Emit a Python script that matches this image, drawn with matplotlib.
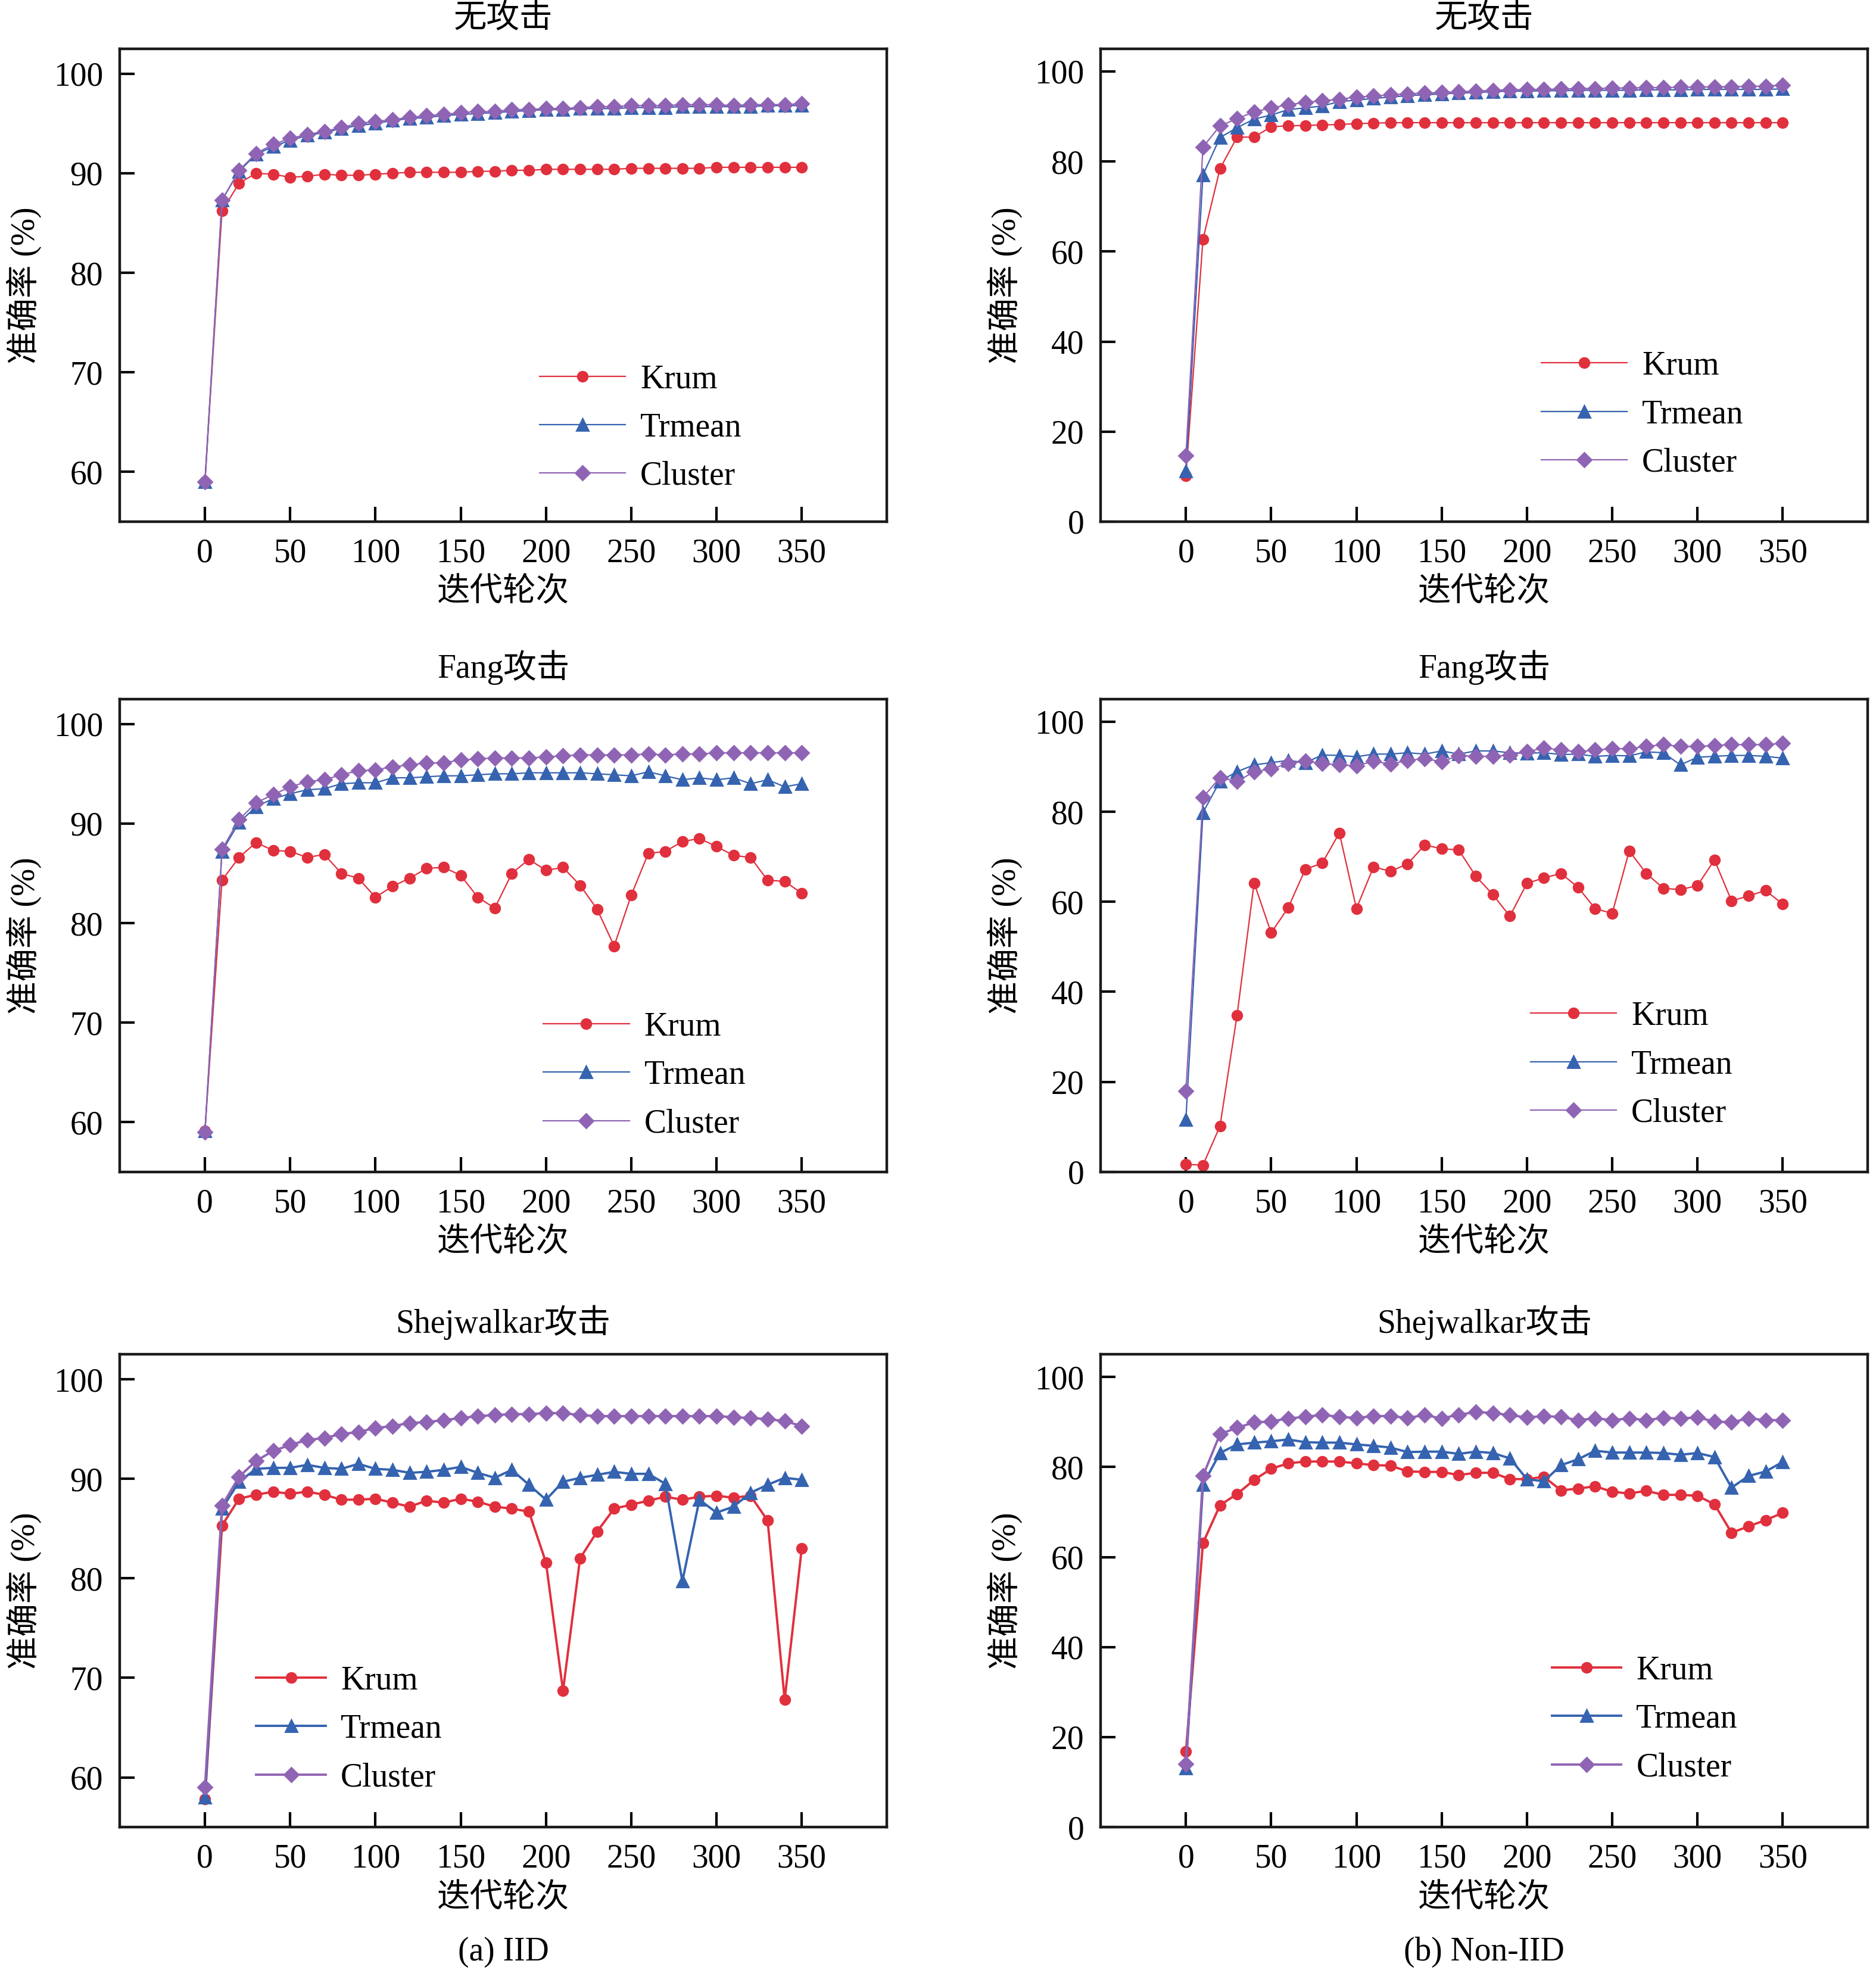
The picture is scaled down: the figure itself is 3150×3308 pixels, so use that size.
import matplotlib
matplotlib.use('Agg')
import matplotlib.pyplot as plt
import numpy as np

plt.rcParams['font.family'] = ['Liberation Serif', 'Noto Sans CJK SC']
plt.rcParams['axes.unicode_minus'] = False

# 迭代轮次
rounds = np.arange(0, 360, 10)
methods = ['Krum', 'Trmean', 'Cluster']

# IID 无攻击
iid_none_krum = [59.0, 86.2, 89.0, 90.0, 89.9, 89.6, 89.7, 89.9, 89.8, 89.8, 89.9, 90.0,
                 90.1, 90.1, 90.1, 90.1, 90.2, 90.2, 90.3, 90.3, 90.4, 90.4, 90.4, 90.4,
                 90.4, 90.5, 90.5, 90.5, 90.5, 90.5, 90.6, 90.6, 90.6, 90.6, 90.6, 90.6]
iid_none_trmean = [59.0, 87.3, 90.2, 91.9, 92.7, 93.3, 93.8, 94.1, 94.5, 94.8, 95.0, 95.3,
                   95.5, 95.6, 95.8, 95.9, 96.0, 96.1, 96.2, 96.3, 96.4, 96.4, 96.5, 96.5,
                   96.5, 96.6, 96.6, 96.6, 96.7, 96.7, 96.7, 96.7, 96.7, 96.8, 96.8, 96.8]
iid_none_cluster = [59.0, 87.3, 90.3, 92.0, 92.9, 93.5, 93.9, 94.2, 94.6, 95.0, 95.2, 95.4,
                    95.6, 95.8, 95.9, 96.1, 96.2, 96.2, 96.4, 96.4, 96.5, 96.5, 96.6, 96.7,
                    96.7, 96.8, 96.8, 96.8, 96.9, 96.9, 96.9, 96.8, 96.9, 96.9, 96.9, 97.0]

# Non-IID 无攻击
non_none_krum = [10.2, 62.7, 78.4, 85.4, 85.4, 87.7, 87.9, 88.0, 88.1, 88.2, 88.4, 88.5,
                 88.6, 88.6, 88.6, 88.6, 88.6, 88.6, 88.6, 88.6, 88.6, 88.6, 88.6, 88.6,
                 88.6, 88.6, 88.6, 88.6, 88.6, 88.6, 88.6, 88.6, 88.6, 88.6, 88.6, 88.6]
non_none_trmean = [11.3, 77.0, 85.3, 87.5, 89.4, 90.3, 91.5, 91.9, 92.3, 93.3, 93.6, 94.0,
                   94.3, 94.6, 94.8, 95.0, 95.2, 95.3, 95.5, 95.6, 95.6, 95.7, 95.7, 95.8,
                   95.8, 95.8, 95.8, 95.9, 95.9, 95.9, 96.0, 96.0, 96.0, 96.0, 96.0, 96.1]
non_none_cluster = [14.7, 83.2, 87.9, 89.5, 91.0, 91.9, 92.6, 93.1, 93.5, 93.8, 94.3, 94.5,
                    94.8, 95.0, 95.2, 95.3, 95.5, 95.6, 95.8, 95.9, 96.0, 96.0, 96.1, 96.2,
                    96.2, 96.3, 96.3, 96.4, 96.4, 96.5, 96.5, 96.6, 96.6, 96.7, 96.7, 97.0]

# IID Fang攻击
iid_fang_krum = [59.1, 84.3, 86.6, 88.1, 87.3, 87.2, 86.6, 86.9, 85.0, 84.5, 82.6, 83.7,
                 84.5, 85.5, 85.6, 84.8, 82.6, 81.5, 85.0, 86.4, 85.3, 85.6, 83.8, 81.4,
                 77.7, 82.8, 87.0, 87.2, 88.2, 88.5, 87.7, 86.8, 86.6, 84.3, 84.2, 83.0]
iid_fang_trmean = [59.1, 87.2, 90.1, 91.7, 92.5, 93.0, 93.4, 93.5, 94.0, 94.1, 94.1, 94.6,
                   94.6, 94.7, 94.8, 94.8, 94.9, 95.0, 95.0, 95.1, 95.1, 95.1, 95.1, 95.0,
                   94.9, 94.8, 95.2, 94.8, 94.4, 94.6, 94.4, 94.6, 94.0, 94.4, 93.7, 94.0]
iid_fang_cluster = [59.0, 87.4, 90.4, 92.1, 92.9, 93.7, 94.2, 94.4, 94.9, 95.3, 95.4, 95.7,
                    95.9, 96.1, 96.1, 96.4, 96.5, 96.6, 96.6, 96.6, 96.7, 96.8, 96.9, 96.9,
                    96.9, 96.9, 97.0, 96.9, 97.0, 97.0, 97.1, 97.1, 97.1, 97.1, 97.1, 97.1]

# Non-IID Fang攻击
non_fang_krum = [1.7, 1.5, 10.2, 34.8, 64.2, 53.1, 58.7, 67.2, 68.6, 75.3, 58.5, 67.7,
                 66.8, 68.4, 72.6, 71.8, 71.5, 65.7, 61.6, 56.8, 64.1, 65.3, 66.3, 63.2,
                 58.5, 57.4, 71.3, 66.3, 63.0, 62.7, 63.6, 69.3, 60.2, 61.3, 62.5, 59.5]
non_fang_trmean = [11.6, 79.8, 86.8, 88.9, 90.4, 90.9, 91.4, 90.9, 92.6, 92.5, 92.2, 92.8,
                   92.8, 93.1, 92.8, 93.5, 92.8, 93.5, 93.5, 93.1, 93.0, 93.1, 92.7, 92.8,
                   92.3, 92.5, 92.4, 93.3, 93.1, 90.4, 92.1, 92.3, 92.5, 92.5, 92.3, 91.9]
non_fang_cluster = [18.0, 83.2, 87.6, 86.7, 88.9, 89.5, 90.7, 91.2, 90.7, 90.4, 90.2, 91.2,
                    90.6, 91.4, 91.8, 91.1, 92.5, 92.3, 92.3, 92.6, 93.3, 94.2, 93.7, 93.3,
                    93.7, 94.0, 94.0, 94.5, 94.9, 94.5, 94.5, 94.7, 94.9, 94.9, 94.9, 95.2]

# IID Shejwalkar攻击
iid_shej_krum = [57.8, 85.3, 88.0, 88.4, 88.7, 88.5, 88.7, 88.4, 87.9, 87.9, 88.0, 87.6,
                 87.2, 87.8, 87.6, 88.0, 87.7, 87.2, 87.0, 86.7, 81.6, 68.7, 82.0, 84.7,
                 87.0, 87.4, 87.8, 88.2, 87.9, 88.2, 88.3, 88.1, 88.3, 85.8, 67.8, 83.0]
iid_shej_trmean = [58.0, 87.0, 89.7, 91.0, 91.1, 91.1, 91.4, 91.1, 91.0, 91.5, 91.0, 90.9,
                   90.6, 90.7, 90.9, 91.2, 90.6, 90.1, 90.9, 89.4, 87.9, 89.7, 90.1, 90.4,
                   90.7, 90.5, 90.5, 89.5, 79.7, 87.9, 86.6, 87.2, 88.6, 89.4, 90.1, 89.9]
iid_shej_cluster = [59.0, 87.3, 90.2, 91.8, 92.8, 93.4, 93.9, 94.1, 94.5, 94.7, 95.1, 95.3,
                    95.6, 95.7, 95.9, 96.1, 96.3, 96.4, 96.5, 96.5, 96.6, 96.6, 96.4, 96.3,
                    96.3, 96.3, 96.3, 96.3, 96.3, 96.3, 96.3, 96.2, 96.1, 96.0, 95.8, 95.3]

# Non-IID Shejwalkar攻击
non_shej_krum = [16.8, 63.1, 71.5, 74.0, 77.1, 79.6, 80.8, 81.2, 81.2, 81.2, 80.8, 80.4,
                 80.3, 79.0, 78.9, 78.9, 78.2, 78.7, 78.7, 77.3, 77.3, 77.8, 74.8, 75.2,
                 75.7, 74.5, 74.1, 74.7, 73.8, 73.8, 73.6, 71.7, 65.4, 66.8, 68.2, 69.8]
non_shej_trmean = [13.1, 76.1, 83.1, 85.0, 85.4, 85.7, 86.1, 85.5, 85.4, 85.4, 85.0, 84.7,
                   84.3, 83.3, 83.4, 83.4, 82.9, 83.4, 83.1, 81.9, 77.3, 76.8, 80.4, 81.7,
                   83.6, 83.2, 83.2, 83.2, 83.1, 82.7, 83.1, 82.2, 75.4, 78.0, 79.0, 81.1]
non_shej_cluster = [14.0, 78.0, 87.3, 88.7, 89.9, 90.1, 90.8, 91.1, 91.6, 91.1, 90.9, 91.3,
                    91.3, 90.9, 91.5, 90.8, 91.6, 92.2, 92.0, 91.5, 91.0, 91.3, 91.1, 90.4,
                    90.8, 90.4, 90.8, 90.4, 90.9, 90.8, 91.0, 90.1, 89.9, 90.8, 90.4, 90.4]

titles = ['无攻击', '无攻击', 'Fang攻击', 'Fang攻击', 'Shejwalkar攻击', 'Shejwalkar攻击']
panel_data = [
    [iid_none_krum, iid_none_trmean, iid_none_cluster],
    [non_none_krum, non_none_trmean, non_none_cluster],
    [iid_fang_krum, iid_fang_trmean, iid_fang_cluster],
    [non_fang_krum, non_fang_trmean, non_fang_cluster],
    [iid_shej_krum, iid_shej_trmean, iid_shej_cluster],
    [non_shej_krum, non_shej_trmean, non_shej_cluster],
]

colors = ['#E1303D', '#3563B0', '#9064B4']
markers = ['o', '^', 'D']
msizes = [6, 7, 6]

# 图例位置 (轴坐标, 左下角)
legend_pos = [(0.547, 0.063), (0.574, 0.091), (0.552, 0.069),
              (0.560, 0.091), (0.178, 0.072), (0.588, 0.093)]

fs = 20
fig = plt.figure(figsize=(15.75, 16.54), dpi=200)
col_x = [0.0638, 0.5867]
row_y = [0.7352, 0.4051, 0.0725]
w, h = 0.409, 0.2400

for i in range(6):
    r, c = divmod(i, 2)
    ax = fig.add_axes([col_x[c], row_y[r], w, h])
    lw = 0.8 if r < 2 else 1.4
    for k in range(3):
        ax.plot(rounds, panel_data[i][k], color=colors[k], marker=markers[k],
                markersize=msizes[k], markeredgecolor=colors[k], linewidth=lw,
                label=methods[k])
    ax.set_xlim(-50, 400)
    ax.set_xticks(np.arange(0, 351, 50))
    if c == 0:
        ax.set_ylim(55, 102.5)
        ax.set_yticks(np.arange(60, 101, 10))
    else:
        ax.set_ylim(0, 105)
        ax.set_yticks(np.arange(0, 101, 20))
    ax.tick_params(direction='in', length=9, width=1.5, labelsize=fs, pad=10,
                   top=False, right=False)
    for sp in ax.spines.values():
        sp.set_linewidth(1.6)
        sp.set_color('#1a1a1a')
    ax.set_title(titles[i], fontsize=fs, pad=13)
    ax.set_xlabel('迭代轮次', fontsize=fs)
    ax.xaxis.set_label_coords(0.5, -0.118)
    ax.set_ylabel('准确率 (%)', fontsize=fs)
    ax.yaxis.set_label_coords(-0.102, 0.5)
    hl = 2.6 if r < 2 else 2.1
    ax.legend(loc='lower left', bbox_to_anchor=legend_pos[i], frameon=False,
              fontsize=fs, handlelength=hl, handletextpad=0.45, labelspacing=0.53,
              borderpad=0, borderaxespad=0)

fig.text(col_x[0] + w / 2, 1 - 3278 / 3308, '(a) IID', fontsize=fs,
         ha='center', va='center')
fig.text(col_x[1] + w / 2, 1 - 3278 / 3308, '(b) Non-IID', fontsize=fs,
         ha='center', va='center')

plt.savefig('out.png', dpi=200)
